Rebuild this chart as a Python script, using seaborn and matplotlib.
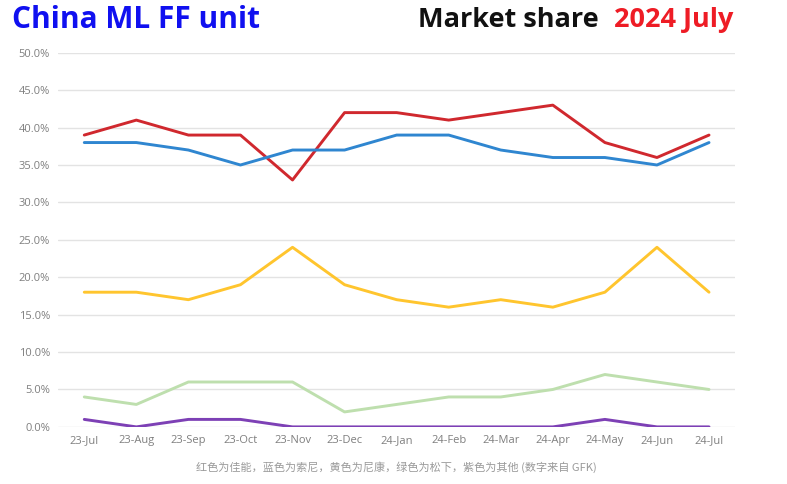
import numpy as np
import pandas as pd
import matplotlib
matplotlib.use("Agg")
import matplotlib.pyplot as plt
import seaborn as sns
from matplotlib.ticker import PercentFormatter

# Data (market share, %)
months = ['23-Jul', '23-Aug', '23-Sep', '23-Oct', '23-Nov', '23-Dec', '24-Jan',
          '24-Feb', '24-Mar', '24-Apr', '24-May', '24-Jun', '24-Jul']
canon = [39, 41, 39, 39, 33, 42, 42, 41, 42, 43, 38, 36, 39]
sony = [38, 38, 37, 35, 37, 37, 39, 39, 37, 36, 36, 35, 38]
nikon = [18, 18, 17, 19, 24, 19, 17, 16, 17, 16, 18, 24, 18]
panasonic = [4, 3, 6, 6, 6, 2, 3, 4, 4, 5, 7, 6, 5]
others = [1, 0, 1, 1, 0, 0, 0, 0, 0, 0, 1, 0, 0]

brands = ['Canon', 'Sony', 'Nikon', 'Panasonic', 'Others']
cols = ['#D0282E', '#2F86D0', '#FFC52E', '#BEDFAE', '#7D40B5']

# long format
df = []
for b, vals in zip(brands, [canon, sony, nikon, panasonic, others]):
    df.append(pd.DataFrame({'month': months, 'share': vals, 'brand': b}))
df = pd.concat(df, ignore_index=True)

sns.set_style("white")
plt.rcParams['font.family'] = ['Open Sans', 'Noto Sans CJK SC', 'DejaVu Sans']

fig = plt.figure(figsize=(7.87, 4.84), dpi=100)
ax = fig.add_axes([0.074, 0.118, 0.86, 0.773])

sns.lineplot(data=df, x='month', y='share', hue='brand', palette=cols,
             linewidth=2.1, sort=False, legend=False, ax=ax)

ax.set_xlim(-0.5, 12.5)
ax.set_ylim(0, 50)
ax.set_yticks(np.arange(0, 51, 5))
ax.yaxis.set_major_formatter(PercentFormatter(decimals=1))
ax.grid(axis='y', color='#E3E3E3', lw=1)
ax.set_axisbelow(True)
ax.tick_params(axis='both', labelsize=8, colors='#7F7F7F', length=0, pad=6)
ax.set_xlabel('红色为佳能，蓝色为索尼，黄色为尼康，绿色为松下，紫色为其他 (数字来自 GFK)',
              fontsize=8, color='#9A9A9A', labelpad=11,
              family=['Noto Sans CJK SC', 'DejaVu Sans'])
ax.set_ylabel('')
sns.despine(ax=ax, left=True, bottom=True)

# Titles
fig.text(0.015, 0.958, 'China ML FF unit', color='#1010F0', fontsize=21.5,
         fontweight='bold', va='center', ha='left')
fig.text(0.531, 0.958, 'Market share', color='#111111', fontsize=19.5,
         fontweight='bold', va='center', ha='left')
fig.text(0.932, 0.958, '2024 July', color='#EE1C25', fontsize=19.5,
         fontweight='bold', va='center', ha='right')

plt.savefig('out.png', dpi=100)
